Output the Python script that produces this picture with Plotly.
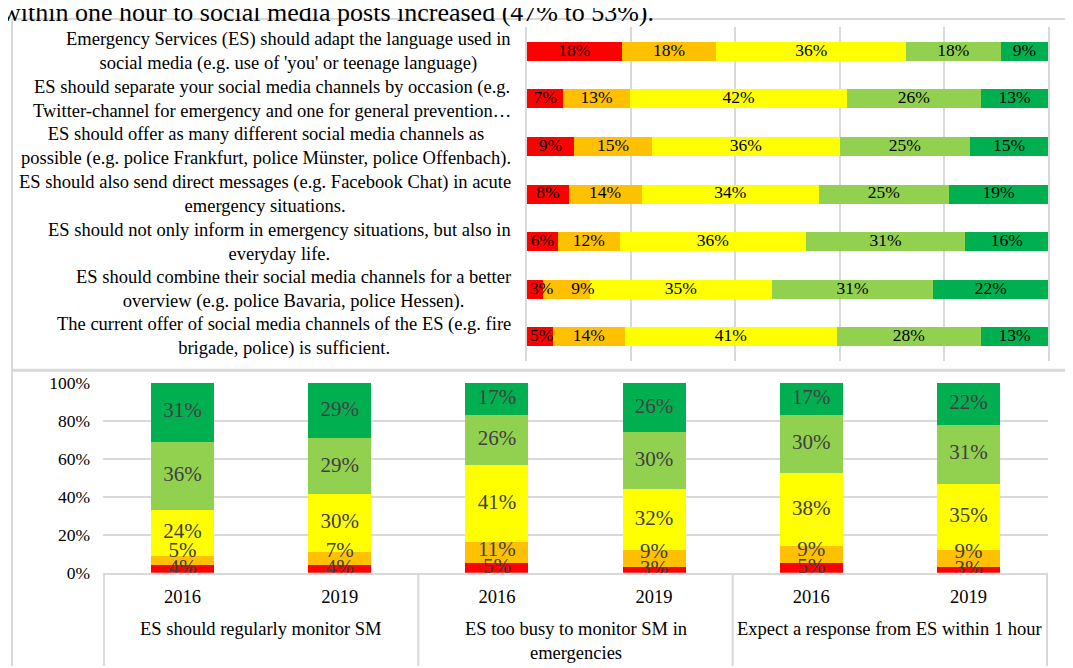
import plotly.graph_objects as go

# ---------------- data ----------------
title_text = "within one hour to social media posts increased (47% to 53%)."

statements = [
    "Emergency Services (ES) should adapt the language used in<br>social media (e.g. use of 'you' or teenage language)",
    "ES should separate your social media channels by occasion (e.g.<br>Twitter-channel for emergency and one for general prevention…",
    "ES should offer as many different social media channels as<br>possible (e.g. police Frankfurt, police Münster, police Offenbach).",
    "ES should also send direct messages (e.g. Facebook Chat) in acute<br>emergency situations.",
    "ES should not only inform in emergency situations, but also in<br>everyday life.",
    "ES should combine their social media channels for a better<br>overview (e.g. police Bavaria, police Hessen).",
    "The current offer of social media channels of the ES (e.g. fire<br>brigade, police) is sufficient.",
]
# five answer levels, red -> dark green, one value per statement
top_red = [18, 7, 9, 8, 6, 3, 5]
top_orange = [18, 13, 15, 14, 12, 9, 14]
top_yellow = [36, 42, 36, 34, 36, 35, 41]
top_lgreen = [18, 26, 25, 25, 31, 31, 28]
top_green = [9, 13, 15, 19, 16, 22, 13]

groups = [
    "ES should regularly monitor SM",
    "ES too busy to monitor SM in<br>emergencies",
    "Expect a response from ES within 1 hour",
]
years = ["2016", "2019"]
bot_red = [4, 4, 5, 3, 5, 3]
bot_orange = [5, 7, 11, 9, 9, 9]
bot_yellow = [24, 30, 41, 32, 38, 35]
bot_lgreen = [36, 29, 26, 30, 30, 31]
bot_green = [31, 29, 17, 26, 17, 22]

colors = ["#FF0000", "#FFC000", "#FFFF00", "#92D050", "#00B050"]

# ---------------- geometry (page px; the figure sits 8px into the page) ----------------
W, H = 1073, 668
OFF = 8
FONT = "Liberation Serif"


def px_x(x):
    return (x - OFF) / W


def px_y(y):
    return 1 - (y - OFF) / H


top_x = [527, 1048]
top_y = [17, 362]
bot_x = [103, 1048]
bot_y = [384, 580]

fig = go.Figure()

top_series = [top_red, top_orange, top_yellow, top_lgreen, top_green]
bot_series = [bot_red, bot_orange, bot_yellow, bot_lgreen, bot_green]
bot_cats = [f"{g}|{y}" for g in groups for y in years]
bot_ticks = [y for g in groups for y in years]

for s, c in zip(top_series, colors):
    fig.add_trace(go.Bar(y=statements, x=s, orientation="h", marker=dict(color=c, line=dict(width=0)),
                         xaxis="x", yaxis="y", showlegend=False, hoverinfo="skip"))
for s, c in zip(bot_series, colors):
    fig.add_trace(go.Bar(x=bot_cats, y=s, marker=dict(color=c, line=dict(width=0)),
                         xaxis="x2", yaxis="y2", showlegend=False, hoverinfo="skip"))


def label_positions(vals, px_per_unit, sizes, pad, edge=None):
    """Centre of each stacked segment, nudged so neighbouring labels do not collide."""
    total = sum(vals)
    norm = [v / total * 100 for v in vals]
    out, cum = [], 0
    for i, n in enumerate(norm):
        c = cum + n / 2
        cum += n
        if out:
            need = ((sizes[i - 1] + sizes[i]) / 2 + pad) / px_per_unit
            c = max(c, out[-1] + need)
        elif edge is not None:
            c = max(c, (sizes[i] / 2 + edge) / px_per_unit)
        out.append(c)
    return out


def text_w(t, fs):
    return sum(0.833 if ch == "%" else 0.5 for ch in t) * fs


# top labels
fs_top = 17.5
top_ppu = (top_x[1] - top_x[0]) / 100
tx, ty, tt = [], [], []
for i, st in enumerate(statements):
    vals = [s[i] for s in top_series]
    texts = [f"{v}%" for v in vals]
    pos = label_positions(vals, top_ppu, [text_w(t, fs_top) for t in texts], 18, edge=3)
    tx += pos
    ty += [st] * len(vals)
    tt += texts
fig.add_trace(go.Scatter(x=tx, y=ty, text=tt, mode="text", textposition="middle center",
                         textfont=dict(family=FONT, size=fs_top, color="black"),
                         xaxis="x", yaxis="y", showlegend=False, hoverinfo="skip", cliponaxis=False))

# bottom labels
fs_bot = 21
bot_ppu = (bot_y[1] - bot_y[0]) / 100
bx, by, bt = [], [], []
for i, cat in enumerate(bot_cats):
    vals = [s[i] for s in bot_series]
    texts = [f"{v}%" for v in vals]
    pos = label_positions(vals, bot_ppu, [0] * len(vals), 18)
    bx += [cat] * len(vals)
    by += pos
    bt += texts
fig.add_trace(go.Scatter(x=bx, y=by, text=bt, mode="text", textposition="middle center",
                         textfont=dict(family=FONT, size=fs_bot, color="#404040"),
                         xaxis="x2", yaxis="y2", showlegend=False, hoverinfo="skip", cliponaxis=False))

GRID = "#D9D9D9"
fig.update_layout(
    width=W, height=H,
    margin=dict(l=0, r=0, t=0, b=0),
    paper_bgcolor="white", plot_bgcolor="white",
    barmode="stack", barnorm="percent", bargap=0.6,
    font=dict(family=FONT, color="black"),
    showlegend=False,
    xaxis=dict(domain=[px_x(top_x[0]), px_x(top_x[1])], range=[0, 100], dtick=20,
               showgrid=True, gridcolor=GRID, gridwidth=2, zeroline=False,
               showticklabels=False, ticks="", anchor="y", fixedrange=True),
    yaxis=dict(domain=[px_y(top_y[1]), px_y(top_y[0])], type="category",
               categoryorder="array", categoryarray=statements, autorange="reversed",
               showticklabels=False, ticks="", showgrid=False, zeroline=False,
               showline=True, linecolor=GRID, linewidth=2, mirror=True, anchor="x"),
    xaxis2=dict(domain=[px_x(bot_x[0]), px_x(bot_x[1])], type="category",
                categoryorder="array", categoryarray=bot_cats,
                tickvals=bot_cats, ticktext=bot_ticks, ticks="",
                tickfont=dict(family=FONT, size=18.5, color="black"),
                ticklabelstandoff=6,
                showline=True, linecolor=GRID, linewidth=2, showgrid=False, anchor="y2"),
    yaxis2=dict(domain=[px_y(bot_y[1]), px_y(bot_y[0])], range=[0, 100], dtick=20,
                ticksuffix="%", ticks="", tickfont=dict(family=FONT, size=17.5, color="black"),
                ticklabelstandoff=12,
                showgrid=True, gridcolor=GRID, gridwidth=2, zeroline=False, anchor="x2"),
)

ann = []
ann.append(dict(text=title_text, xref="paper", yref="paper", x=px_x(0), y=px_y(19),
                xanchor="left", yanchor="bottom", showarrow=False,
                font=dict(family=FONT, size=26, color="black")))
for i, st in enumerate(statements):
    ann.append(dict(text=st, xref="paper", yref="y", x=px_x(513), y=i,
                    xanchor="right", yanchor="middle", align="center", showarrow=False,
                    font=dict(family=FONT, size=18.5, color="black")))
for gi, g in enumerate(groups):
    ann.append(dict(text=g, xref="x2", yref="paper", x=gi * len(years) + (len(years) - 1) / 2,
                    y=px_y(625), xanchor="center", yanchor="top", align="center", showarrow=False,
                    font=dict(family=FONT, size=18.5, color="black")))
fig.update_layout(annotations=ann)

shapes = []
# panel frames
shapes.append(dict(type="line", xref="paper", yref="paper", x0=px_x(12), x1=1, y0=px_y(9), y1=px_y(9),
                   line=dict(color=GRID, width=2)))
shapes.append(dict(type="line", xref="paper", yref="paper", x0=px_x(12), x1=px_x(12), y0=px_y(9), y1=0,
                   line=dict(color=GRID, width=2)))
shapes.append(dict(type="line", xref="paper", yref="paper", x0=px_x(12), x1=1, y0=px_y(371), y1=px_y(371),
                   line=dict(color=GRID, width=3)))
# category group dividers
for k in range(len(groups) + 1):
    xv = k * len(years) - 0.5
    shapes.append(dict(type="line", xref="x2", yref="paper", x0=xv, x1=xv, y0=px_y(bot_y[1]), y1=0,
                       line=dict(color=GRID, width=2)))
fig.update_layout(shapes=shapes)

fig.write_html("out.html")
